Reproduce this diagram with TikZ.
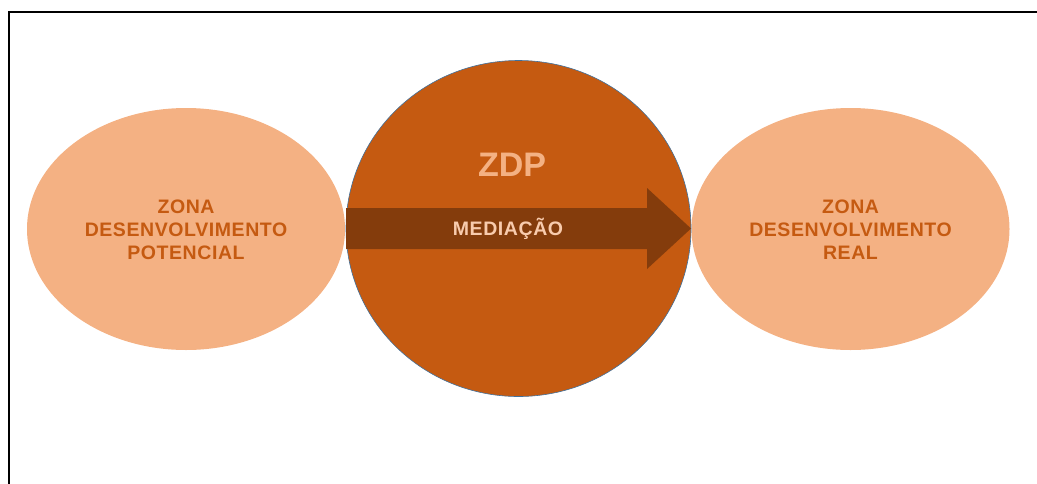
\documentclass[tikz,border=0pt]{standalone}
\usepackage{fontspec}
\setmainfont{Liberation Sans}
\newfontfamily\widesans[LetterSpace=3]{Liberation Sans}
\usetikzlibrary{shapes.geometric}
\definecolor{peach}{HTML}{F4B183}
\definecolor{rust}{HTML}{C55A11}
\definecolor{brownarrow}{HTML}{843C0C}
\definecolor{palepeach}{HTML}{F8CBAD}
\definecolor{rim}{HTML}{41719C}
\tikzset{
  zone/.style={ellipse, fill=peach, minimum width=318pt, minimum height=242pt, inner sep=0pt},
  zonetext/.style={text=rust, font=\widesans\bfseries\fontsize{19.5}{23}\selectfont, align=center},
}
\begin{document}
\begin{tikzpicture}[x=1pt,y=-1pt]
  \useasboundingbox (0,0) rectangle (1037,483);
  % page frame (only top and left edges fall inside)
  \draw[line width=1.5pt, black] (9,484) -- (9,12) -- (1038,12);
  % side zones
  \node[zone] (potencial) at (186,229) {};
  \node[zone] (real) at (850.5,229) {};
  % central disc
  \node[ellipse, fill=rust, draw=rim, line width=0.6pt, minimum width=345pt, minimum height=336pt, inner sep=0pt] (zdp) at (518.5,228.5) {};
  % mediation arrow across the disc
  \fill[brownarrow] (346,208) -- (647,208) -- (647,188) -- (691,228.5)
        -- (647,269) -- (647,249) -- (346,249) -- cycle;
  % labels
  \node[zonetext] (tpot) at (186,230) {ZONA\\DESENVOLVIMENTO\\POTENCIAL};
  \node[zonetext] (treal) at (850.5,230) {ZONA\\DESENVOLVIMENTO\\REAL};
  \node[text=peach, font=\bfseries\fontsize{34}{40}\selectfont] (tzdp) at (512,165) {ZDP};
  \node[text=palepeach, font=\widesans\bfseries\fontsize{19.5}{23}\selectfont] (tmed) at (508,229) {MEDIAÇÃO};
\end{tikzpicture}
\end{document}
